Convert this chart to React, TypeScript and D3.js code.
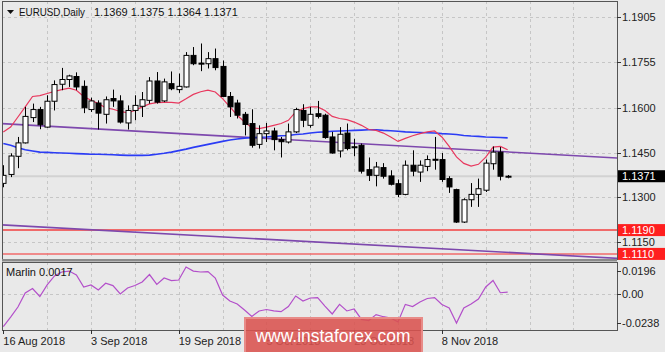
import React, { useEffect, useRef } from 'react';
import * as d3 from 'd3';

// daily EURUSD bars, 16 Aug 2018 .. 21 Nov 2018
const opens = [
  1.1347, 1.1377, 1.1438, 1.1483, 1.1568, 1.1595, 1.1536, 1.1623, 1.168, 1.1696,
  1.1706, 1.1673, 1.1595, 1.1617, 1.1579, 1.1632, 1.1624, 1.155, 1.1592, 1.1606,
  1.1626, 1.1691, 1.1624, 1.1682, 1.1662, 1.1671, 1.1777, 1.1751, 1.1749, 1.1766,
  1.174, 1.1639, 1.1617, 1.1579, 1.1548, 1.1478, 1.1514, 1.1523, 1.1494, 1.1486,
  1.152, 1.1592, 1.1542, 1.1581, 1.1576, 1.1503, 1.1456, 1.1516, 1.147, 1.1475,
  1.1393, 1.1374, 1.14, 1.1372, 1.1346, 1.131, 1.1408, 1.1385, 1.1404, 1.1428,
  1.1427, 1.1363, 1.1326, 1.1217, 1.1292, 1.131, 1.1324, 1.1413, 1.1452, 1.1369,
];
const highs = [
  1.1408, 1.1448, 1.1503, 1.1604, 1.1615, 1.1604, 1.1643, 1.1693, 1.1735, 1.1712,
  1.172, 1.1693, 1.1635, 1.1626, 1.1639, 1.1662, 1.1643, 1.1609, 1.1643, 1.1654,
  1.1704, 1.1721, 1.1699, 1.1723, 1.1716, 1.1788, 1.1805, 1.1817, 1.1788, 1.18,
  1.176, 1.1654, 1.1628, 1.1587, 1.1596, 1.1542, 1.155, 1.1534, 1.1503, 1.1548,
  1.1601, 1.1613, 1.1604, 1.1624, 1.1581, 1.152, 1.1536, 1.1548, 1.1497, 1.1481,
  1.1434, 1.1419, 1.1415, 1.1391, 1.136, 1.1424, 1.1458, 1.1424, 1.1441, 1.1503,
  1.1449, 1.1371, 1.1329, 1.1297, 1.1348, 1.1363, 1.1427, 1.1471, 1.1469, 1.1375,
];
const lows = [
  1.1334, 1.1368, 1.1398, 1.1481, 1.1553, 1.1529, 1.1534, 1.1592, 1.166, 1.1671,
  1.166, 1.1583, 1.1587, 1.1528, 1.1548, 1.1604, 1.1548, 1.1528, 1.1559, 1.157,
  1.1615, 1.1615, 1.162, 1.166, 1.1651, 1.1669, 1.1744, 1.1724, 1.1733, 1.1727,
  1.1637, 1.157, 1.1565, 1.1508, 1.1467, 1.1464, 1.1486, 1.1458, 1.1434, 1.1481,
  1.1516, 1.1536, 1.1534, 1.1565, 1.1497, 1.1447, 1.1434, 1.1458, 1.1438, 1.138,
  1.1355, 1.1337, 1.1363, 1.134, 1.1301, 1.1307, 1.1371, 1.1352, 1.1388, 1.1393,
  1.1352, 1.1315, 1.1214, 1.1214, 1.1268, 1.1268, 1.1318, 1.1393, 1.1357, 1.1364,
];
const closes = [
  1.1374, 1.1439, 1.1483, 1.1572, 1.1595, 1.1544, 1.1623, 1.1679, 1.1696, 1.1708,
  1.1671, 1.1601, 1.1624, 1.1583, 1.1628, 1.1624, 1.1553, 1.1592, 1.1609, 1.1628,
  1.1691, 1.162, 1.1688, 1.1665, 1.1673, 1.1777, 1.1749, 1.1749, 1.1766, 1.1736,
  1.1639, 1.1604, 1.1576, 1.1545, 1.1475, 1.1514, 1.1523, 1.1494, 1.1487, 1.152,
  1.1595, 1.1559, 1.1579, 1.1572, 1.1501, 1.1449, 1.1512, 1.1464, 1.1468, 1.1388,
  1.1374, 1.1402, 1.1371, 1.1344, 1.131, 1.1408, 1.1388, 1.1408, 1.1427, 1.1426,
  1.136, 1.1335, 1.1217, 1.1292, 1.131, 1.1329, 1.1415, 1.1452, 1.1371, 1.1371,
];

// red (fast) moving average
const maFast = [
  1.152, 1.1536, 1.157, 1.1604, 1.1639, 1.1642, 1.1649, 1.1656, 1.1662, 1.1667,
  1.166, 1.1639, 1.1626, 1.1615, 1.1601, 1.1596, 1.1589, 1.1584, 1.1592, 1.1604,
  1.1614, 1.1618, 1.1619, 1.1619, 1.1617, 1.1631, 1.1646, 1.1655, 1.166, 1.1654,
  1.1632, 1.1604, 1.1576, 1.1553, 1.1534, 1.1531, 1.1536, 1.1542, 1.1548, 1.1559,
  1.1587, 1.1598, 1.1604, 1.1604, 1.1592, 1.1572, 1.1565, 1.1561, 1.1553, 1.1542,
  1.1528, 1.1525, 1.1516, 1.1503, 1.1488, 1.1498, 1.1507, 1.1514, 1.152, 1.1523,
  1.1503, 1.1471, 1.1436, 1.1414, 1.1405, 1.1411, 1.1435, 1.1469, 1.1471, 1.146,
];

// blue (slow) moving average
const maSlow = [
  1.1481, 1.1475, 1.1467, 1.146, 1.1456, 1.1452, 1.1451, 1.145, 1.1449, 1.1448,
  1.1447, 1.1446, 1.1445, 1.1445, 1.1444, 1.1443, 1.1442, 1.1441, 1.1441, 1.1441,
  1.1442, 1.1445, 1.1448, 1.1452, 1.1457, 1.1462, 1.1468, 1.1473, 1.1478, 1.1483,
  1.1488, 1.1493, 1.1496, 1.1499, 1.1501, 1.1502, 1.1503, 1.1505, 1.1507, 1.1508,
  1.1511, 1.1513, 1.1516, 1.1519, 1.152, 1.1522, 1.1523, 1.1524, 1.1525, 1.1526,
  1.1527, 1.1527, 1.1525, 1.1524, 1.1522, 1.152, 1.1519, 1.1518, 1.1517, 1.1516,
  1.1514, 1.1513, 1.1511, 1.1508, 1.1506, 1.1505, 1.1503, 1.1502, 1.1501, 1.15,
];

// Marlin oscillator
const marlin = [
  -0.0271, -0.0191, -0.0107, 0.001, 0.0047, -0.0019, 0.0077, 0.0152, 0.0185, 0.0193,
  0.016, 0.006, 0.0077, 0.0035, 0.0091, 0.0072, 0.0002, 0.0052, 0.0072, 0.0102,
  0.0164, 0.0081, 0.0135, 0.0113, 0.0118, 0.0227, 0.0193, 0.0185, 0.0189, 0.0135,
  -0.0007, -0.0057, -0.0082, -0.0132, -0.0186, -0.014, -0.0128, -0.014, -0.0146, -0.0103,
  -0.0015, -0.0057, -0.0032, -0.0029, -0.0099, -0.0165, -0.0085, -0.014, -0.0124, -0.021,
  -0.022, -0.017, -0.0188, -0.0199, -0.0232, -0.0085, -0.0103, -0.0065, -0.0036, -0.0028,
  -0.0086, -0.0115, -0.0241, -0.0115, -0.0082, -0.004, 0.006, 0.0114, 0.0012, 0.0017,
];

// time axis labels (bar index, text)
const labelBars = [0, 12, 24, 36, 48, 60];
const labelTexts = ['16 Aug 2018', '3 Sep 2018', '19 Sep 2018', '5 Oct 2018', '23 Oct 2018', '8 Nov 2018'];

const priceTicks = [1.1905, 1.1755, 1.16, 1.145, 1.13, 1.115];
const marlinTicks = [0.0196, 0, -0.0238];
const marlinTickTexts = ['0.0196', '0.00', '-0.0238'];

// drawn objects: channel lines and horizontal levels
const channelUpper = [[-0.45, 1.1548], [84, 1.1432]];
const channelLower = [[-0.45, 1.1208], [84, 1.1095]];
const levels = [1.119, 1.111];
const lastPrice = 1.1371;

const FONT = "'Liberation Sans', Arial, sans-serif";

const App = () => {
  const ref = useRef<SVGSVGElement | null>(null);

  useEffect(() => {
    const svg = d3.select(ref.current);
    svg.selectAll('*').remove();

    const left = 2;
    const right = 617;
    const mainTop = 1;
    const mainBottom = 259;
    const subTop = 262;
    const subBottom = 330;

    const x = d3.scaleLinear().domain([0, 84]).range([3.3, 617.3]);
    const y = d3.scaleLinear().domain([1.115, 1.1905]).range([242, 17.3]);
    const ym = d3.scaleLinear().domain([-0.0238, 0.0196]).range([322.7, 270.7]);

    svg.append('rect').attr('width', 665).attr('height', 352).attr('fill', '#e9e9e9');

    const defs = svg.append('defs');
    defs.append('clipPath').attr('id', 'clipMain')
      .append('rect').attr('x', left).attr('y', mainTop).attr('width', right - left).attr('height', mainBottom - mainTop);
    defs.append('clipPath').attr('id', 'clipSub')
      .append('rect').attr('x', left).attr('y', subTop).attr('width', right - left).attr('height', subBottom - subTop);

    const main = svg.append('g').attr('clip-path', 'url(#clipMain)');
    const sub = svg.append('g').attr('clip-path', 'url(#clipSub)');

    // grid
    const gridBars = d3.range(6, 85, 6);
    main.selectAll('.vg').data(gridBars).enter().append('line')
      .attr('x1', (d) => Math.round(x(d)) + 0.5).attr('x2', (d) => Math.round(x(d)) + 0.5)
      .attr('y1', mainTop).attr('y2', mainBottom)
      .attr('stroke', '#c6c6c6').attr('stroke-dasharray', '3,3');
    main.selectAll('.hg').data(priceTicks).enter().append('line')
      .attr('x1', left).attr('x2', right)
      .attr('y1', (d) => Math.round(y(d)) + 0.5).attr('y2', (d) => Math.round(y(d)) + 0.5)
      .attr('stroke', '#c6c6c6').attr('stroke-dasharray', '3,3');
    sub.selectAll('.vg').data(gridBars).enter().append('line')
      .attr('x1', (d) => Math.round(x(d)) + 0.5).attr('x2', (d) => Math.round(x(d)) + 0.5)
      .attr('y1', subTop).attr('y2', subBottom)
      .attr('stroke', '#c6c6c6').attr('stroke-dasharray', '3,3');
    sub.append('line')
      .attr('x1', left).attr('x2', right)
      .attr('y1', Math.round(ym(0)) + 0.5).attr('y2', Math.round(ym(0)) + 0.5)
      .attr('stroke', '#c6c6c6').attr('stroke-dasharray', '3,3');

    // last price line
    main.append('line')
      .attr('x1', left).attr('x2', right)
      .attr('y1', y(lastPrice)).attr('y2', y(lastPrice))
      .attr('stroke', '#d2d2d2').attr('stroke-width', 2);

    // horizontal levels
    main.selectAll('.lvl').data(levels).enter().append('line')
      .attr('x1', left).attr('x2', right)
      .attr('y1', (d) => y(d)).attr('y2', (d) => y(d))
      .attr('stroke', '#f06a6a').attr('stroke-width', (d, i) => (i === 0 ? 2 : 1.5));

    // channel lines
    [channelUpper, channelLower].forEach((c) => {
      main.append('line')
        .attr('x1', x(c[0][0])).attr('y1', y(c[0][1]))
        .attr('x2', x(c[1][0])).attr('y2', y(c[1][1]))
        .attr('stroke', '#7d48ad').attr('stroke-width', 1.6);
    });

    const line = d3.line<number>().x((d, i) => x(i)).y((d) => y(d));

    main.append('path').datum(maSlow).attr('d', line)
      .attr('fill', 'none').attr('stroke', '#2b3cf5').attr('stroke-width', 1.6);
    main.append('path').datum(maFast).attr('d', line)
      .attr('fill', 'none').attr('stroke', '#e8385e').attr('stroke-width', 1.2);

    // candles
    const bars = d3.range(opens.length);
    main.selectAll('.wick').data(bars).enter().append('line')
      .attr('x1', (i) => Math.round(x(i)) + 0.5).attr('x2', (i) => Math.round(x(i)) + 0.5)
      .attr('y1', (i) => y(highs[i])).attr('y2', (i) => y(lows[i]))
      .attr('stroke', '#000').attr('stroke-width', 1);
    main.selectAll('.body').data(bars).enter().append('rect')
      .attr('x', (i) => Math.round(x(i)) - 2)
      .attr('y', (i) => y(Math.max(opens[i], closes[i])))
      .attr('width', 5)
      .attr('height', (i) => Math.max(1, y(Math.min(opens[i], closes[i])) - y(Math.max(opens[i], closes[i]))))
      .attr('fill', (i) => (closes[i] >= opens[i] ? '#fff' : '#000'))
      .attr('stroke', '#000').attr('stroke-width', 1);

    // Marlin line
    const mline = d3.line<number>().x((d, i) => x(i)).y((d) => ym(d));
    sub.append('path').datum(marlin).attr('d', mline)
      .attr('fill', 'none').attr('stroke', '#b34fca').attr('stroke-width', 1.2);

    // frames
    svg.append('rect').attr('x', left + 0.5).attr('y', mainTop + 0.5)
      .attr('width', right - left).attr('height', mainBottom - mainTop)
      .attr('fill', 'none').attr('stroke', '#555');
    svg.append('rect').attr('x', left).attr('y', mainBottom).attr('width', right - left).attr('height', 2.5).attr('fill', '#8a8a8a');
    svg.append('rect').attr('x', left + 0.5).attr('y', subTop + 0.5)
      .attr('width', right - left).attr('height', subBottom - subTop)
      .attr('fill', 'none').attr('stroke', '#555');

    // price axis
    svg.selectAll('.pt').data(priceTicks).enter().append('line')
      .attr('x1', right).attr('x2', right + 4)
      .attr('y1', (d) => Math.round(y(d)) + 0.5).attr('y2', (d) => Math.round(y(d)) + 0.5)
      .attr('stroke', '#333');
    svg.selectAll('.pl').data(priceTicks).enter().append('text')
      .attr('x', 622).attr('y', (d) => y(d) + 4)
      .attr('font-family', FONT).attr('font-size', 11).attr('fill', '#222')
      .text((d) => d3.format('.4f')(d));

    // boxed price tags
    const tags = [
      { v: lastPrice, bg: '#000' },
      { v: levels[0], bg: '#ff1f1f' },
      { v: levels[1], bg: '#ff1f1f' },
    ];
    tags.forEach((t) => {
      svg.append('rect').attr('x', 618).attr('y', y(t.v) - 6).attr('width', 47).attr('height', 12).attr('fill', t.bg);
      svg.append('text').attr('x', 622).attr('y', y(t.v) + 4)
        .attr('font-family', FONT).attr('font-size', 11).attr('fill', '#fff')
        .text(d3.format('.4f')(t.v));
    });

    // Marlin axis
    svg.selectAll('.mt').data(marlinTicks).enter().append('line')
      .attr('x1', right).attr('x2', right + 4)
      .attr('y1', (d) => Math.round(ym(d)) + 0.5).attr('y2', (d) => Math.round(ym(d)) + 0.5)
      .attr('stroke', '#333');
    svg.selectAll('.ml').data(marlinTicks).enter().append('text')
      .attr('x', 622).attr('y', (d) => ym(d) + 4)
      .attr('font-family', FONT).attr('font-size', 11).attr('fill', '#222')
      .text((d, i) => marlinTickTexts[i]);

    // time axis
    svg.selectAll('.tt').data(labelBars).enter().append('line')
      .attr('x1', (d) => Math.round(x(d)) + 0.5).attr('x2', (d) => Math.round(x(d)) + 0.5)
      .attr('y1', subBottom).attr('y2', subBottom + 4)
      .attr('stroke', '#333');
    svg.selectAll('.tl').data(labelBars).enter().append('text')
      .attr('x', (d) => x(d)).attr('y', 345)
      .attr('font-family', FONT).attr('font-size', 11).attr('fill', '#222')
      .text((d, i) => labelTexts[i]);

    // titles
    svg.append('path').attr('d', 'M7,10 L14,10 L10.5,14 Z').attr('fill', '#111');
    svg.append('text').attr('x', 19).attr('y', 16)
      .attr('font-family', FONT).attr('font-size', 11).attr('fill', '#111')
      .attr('textLength', 66).attr('lengthAdjust', 'spacingAndGlyphs')
      .text('EURUSD,Daily');
    svg.append('text').attr('x', 94).attr('y', 16)
      .attr('font-family', FONT).attr('font-size', 11).attr('fill', '#111')
      .text(`${opens[69]} ${highs[69]} ${lows[69]} ${closes[69]}`);
    svg.append('text').attr('x', 6).attr('y', 276)
      .attr('font-family', FONT).attr('font-size', 11).attr('fill', '#111')
      .text(`Marlin ${marlin[marlin.length - 1]}`);

    // watermark
    svg.append('rect').attr('x', 245).attr('y', 318).attr('width', 177).attr('height', 36)
      .attr('fill', '#d9524e').attr('fill-opacity', 0.88)
      .attr('stroke', '#e88b88').attr('stroke-width', 2);
    svg.append('text').attr('x', 333).attr('y', 342)
      .attr('text-anchor', 'middle')
      .attr('font-family', FONT).attr('font-size', 19).attr('fill', '#fff')
      .attr('textLength', 155).attr('lengthAdjust', 'spacingAndGlyphs')
      .text('www.instaforex.com');

    return () => {
      svg.selectAll('*').remove();
    };
  }, []);

  return (
    <svg
      ref={ref}
      width={665}
      height={352}
      style={{ position: 'absolute', left: 0, top: 0, display: 'block' }}
    />
  );
};

export default App;
